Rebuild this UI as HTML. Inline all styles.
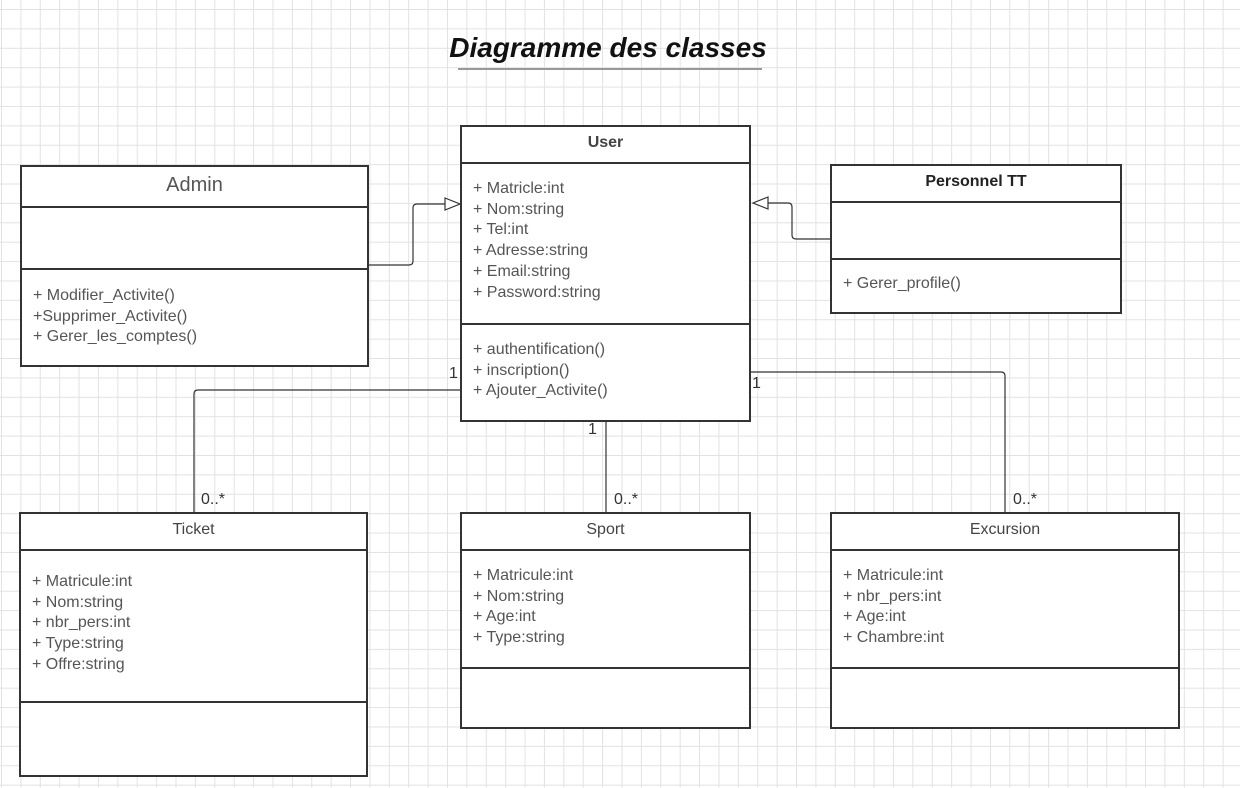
<!DOCTYPE html>
<html><head><meta charset="utf-8"><style>
body{margin:0;width:1240px;height:788px;overflow:hidden;position:relative;font-family:"Liberation Sans",sans-serif;
background-color:#fff;
background-image:linear-gradient(#e2e2e2 1px,transparent 1px),linear-gradient(90deg,#e2e2e2 1px,transparent 1px);
background-size:19.4px 19.4px;background-position:1px 9px;}
.b{position:absolute;background:#fff;border:2px solid #333;box-sizing:border-box;}
.h{position:absolute;left:0;right:0;border-bottom:2px solid #333;text-align:center;color:#444;font-size:16px;}
.d{position:absolute;left:0;right:0;border-top:2px solid #333;}
.t{position:absolute;left:11px;color:#555;font-size:16px;line-height:20.7px;white-space:pre;}
.l{position:absolute;color:#333;font-size:16px;}
</style></head><body>
<div style="position:absolute;left:0;width:1216px;top:32px;text-align:center;font-size:28px;font-weight:bold;font-style:italic;color:#111">Diagramme des classes</div>
<div style="position:absolute;left:458px;width:304px;top:68px;height:2px;background:#999"></div>

<svg width="1240" height="788" style="position:absolute;left:0;top:0" fill="none" stroke="#333" stroke-width="1.2">
<path d="M368 265 H409 Q413 265 413 261 V208 Q413 204 417 204 H445"/>
<path d="M445 198 L460 204 L445 210 Z" fill="#fff"/>
<path d="M831 239 H796 Q792 239 792 235 V207 Q792 203 788 203 H768"/>
<path d="M768 197 L753 203 L768 209 Z" fill="#fff"/>
<path d="M461 390 H198 Q194 390 194 394 V513"/>
<path d="M606 421 V513"/>
<path d="M750 372 H1001 Q1005 372 1005 376 V513"/>
</svg>

<div class="b" style="left:20px;top:165px;width:349px;height:202px">
<div class="h" style="top:0;height:39px;line-height:36px;font-size:20px;color:#555">Admin</div>
<div class="d" style="top:101px"></div>
<div class="t" style="top:119px">+ Modifier_Activite()
+Supprimer_Activite()
+ Gerer_les_comptes()</div></div>

<div class="b" style="left:460px;top:125px;width:291px;height:297px">
<div class="h" style="top:0;height:35px;line-height:32px;font-weight:bold">User</div>
<div class="d" style="top:196px"></div>
<div class="t" style="top:52px">+ Matricle:int
+ Nom:string
+ Tel:int
+ Adresse:string
+ Email:string
+ Password:string</div>
<div class="t" style="top:213px">+ authentification()
+ inscription()
+ Ajouter_Activite()</div></div>

<div class="b" style="left:830px;top:164px;width:292px;height:150px">
<div class="h" style="top:0;height:35px;line-height:32px;font-weight:bold;color:#222">Personnel TT</div>
<div class="d" style="top:92px"></div>
<div class="t" style="top:108px">+ Gerer_profile()</div></div>

<div class="b" style="left:19px;top:512px;width:349px;height:265px">
<div class="h" style="top:0;height:35px;line-height:32px">Ticket</div>
<div class="d" style="top:187px"></div>
<div class="t" style="top:58px">+ Matricule:int
+ Nom:string
+ nbr_pers:int
+ Type:string
+ Offre:string</div></div>

<div class="b" style="left:460px;top:512px;width:291px;height:217px">
<div class="h" style="top:0;height:35px;line-height:32px">Sport</div>
<div class="d" style="top:153px"></div>
<div class="t" style="top:52px">+ Matricule:int
+ Nom:string
+ Age:int
+ Type:string</div></div>

<div class="b" style="left:830px;top:512px;width:350px;height:217px">
<div class="h" style="top:0;height:35px;line-height:32px">Excursion</div>
<div class="d" style="top:153px"></div>
<div class="t" style="top:52px">+ Matricule:int
+ nbr_pers:int
+ Age:int
+ Chambre:int</div></div>

<div class="l" style="left:449px;top:365px">1</div>
<div class="l" style="left:752px;top:375px">1</div>
<div class="l" style="left:588px;top:421px">1</div>
<div class="l" style="left:201px;top:491px">0..*</div>
<div class="l" style="left:614px;top:491px">0..*</div>
<div class="l" style="left:1013px;top:491px">0..*</div>
</body></html>
